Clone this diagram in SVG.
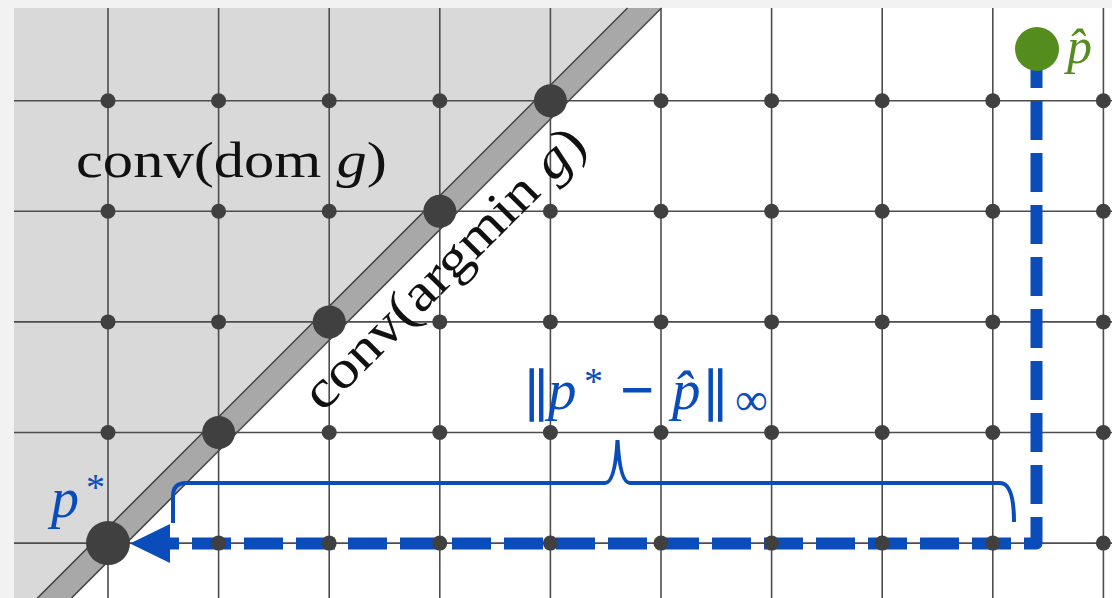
<svg xmlns="http://www.w3.org/2000/svg" width="1112" height="598" viewBox="0 0 1112 598">
<style>
.grid{stroke:#4d4d4d;stroke-width:1.6;fill:none}
.dot{fill:#404040}
.serif{font-family:"Liberation Serif","DejaVu Serif",serif}
.it{font-style:italic}
.blue{fill:#0a4cba}
.bar{stroke:#0a4cba;stroke-width:1.6}
</style>
<rect x="0" y="0" width="1112" height="598" fill="#f2f2f2"/>
<rect x="14" y="8" width="1098" height="590" fill="#ffffff"/>
<g id="region-dom">
<polygon points="14,8 627.5,8 37.5,598 14,598" fill="#d9d9d9"/>
</g>
<g id="region-argmin">
<polygon points="627.5,8 661.5,8 71.5,598 37.5,598" fill="#a8a8a8"/>
<line x1="627.5" y1="8" x2="37.5" y2="598" stroke="#404040" stroke-width="1.5"/>
<line x1="661.5" y1="8" x2="71.5" y2="598" stroke="#404040" stroke-width="1.5"/>
</g>
<g id="grid">
<line class="grid" x1="108" y1="8" x2="108" y2="598"/>
<line class="grid" x1="218.6" y1="8" x2="218.6" y2="598"/>
<line class="grid" x1="329.2" y1="8" x2="329.2" y2="598"/>
<line class="grid" x1="439.8" y1="8" x2="439.8" y2="598"/>
<line class="grid" x1="550.4" y1="8" x2="550.4" y2="598"/>
<line class="grid" x1="661" y1="8" x2="661" y2="598"/>
<line class="grid" x1="771.6" y1="8" x2="771.6" y2="598"/>
<line class="grid" x1="882.2" y1="8" x2="882.2" y2="598"/>
<line class="grid" x1="992.8" y1="8" x2="992.8" y2="598"/>
<line class="grid" x1="1103.4" y1="8" x2="1103.4" y2="598"/>
<line class="grid" x1="14" y1="100.7" x2="1112" y2="100.7"/>
<line class="grid" x1="14" y1="211.3" x2="1112" y2="211.3"/>
<line class="grid" x1="14" y1="321.9" x2="1112" y2="321.9"/>
<line class="grid" x1="14" y1="432.5" x2="1112" y2="432.5"/>
<line class="grid" x1="14" y1="543.1" x2="1112" y2="543.1"/>
</g>
<g id="connectors">
<path d="M1036.5,49 L1036.5,543.5 L170,543.5" fill="none" stroke="#0a4cba" stroke-width="12" stroke-dasharray="39 13" stroke-linejoin="round"/>
<polygon points="130,543.5 170,524 170,563" fill="#0a4cba"/>
<path d="M173,523 L173,496 Q173,483 186,483 L605,483 Q615,483 617.5,440 Q620,483 630,483 L1000,483 Q1014,483 1014,522" fill="none" stroke="#0a4cba" stroke-width="4"/>
</g>
<g id="grid-points">
<circle class="dot" cx="108" cy="100.7" r="7.5"/><circle class="dot" cx="218.6" cy="100.7" r="7.5"/><circle class="dot" cx="329.2" cy="100.7" r="7.5"/><circle class="dot" cx="439.8" cy="100.7" r="7.5"/><circle class="dot" cx="661" cy="100.7" r="7.5"/><circle class="dot" cx="771.6" cy="100.7" r="7.5"/><circle class="dot" cx="882.2" cy="100.7" r="7.5"/><circle class="dot" cx="992.8" cy="100.7" r="7.5"/><circle class="dot" cx="1103.4" cy="100.7" r="7.5"/>
<circle class="dot" cx="108" cy="211.3" r="7.5"/><circle class="dot" cx="218.6" cy="211.3" r="7.5"/><circle class="dot" cx="329.2" cy="211.3" r="7.5"/><circle class="dot" cx="550.4" cy="211.3" r="7.5"/><circle class="dot" cx="661" cy="211.3" r="7.5"/><circle class="dot" cx="771.6" cy="211.3" r="7.5"/><circle class="dot" cx="882.2" cy="211.3" r="7.5"/><circle class="dot" cx="992.8" cy="211.3" r="7.5"/><circle class="dot" cx="1103.4" cy="211.3" r="7.5"/>
<circle class="dot" cx="108" cy="321.9" r="7.5"/><circle class="dot" cx="218.6" cy="321.9" r="7.5"/><circle class="dot" cx="439.8" cy="321.9" r="7.5"/><circle class="dot" cx="550.4" cy="321.9" r="7.5"/><circle class="dot" cx="661" cy="321.9" r="7.5"/><circle class="dot" cx="771.6" cy="321.9" r="7.5"/><circle class="dot" cx="882.2" cy="321.9" r="7.5"/><circle class="dot" cx="992.8" cy="321.9" r="7.5"/><circle class="dot" cx="1103.4" cy="321.9" r="7.5"/>
<circle class="dot" cx="108" cy="432.5" r="7.5"/><circle class="dot" cx="329.2" cy="432.5" r="7.5"/><circle class="dot" cx="439.8" cy="432.5" r="7.5"/><circle class="dot" cx="550.4" cy="432.5" r="7.5"/><circle class="dot" cx="661" cy="432.5" r="7.5"/><circle class="dot" cx="771.6" cy="432.5" r="7.5"/><circle class="dot" cx="882.2" cy="432.5" r="7.5"/><circle class="dot" cx="992.8" cy="432.5" r="7.5"/><circle class="dot" cx="1103.4" cy="432.5" r="7.5"/>
<circle class="dot" cx="218.6" cy="543.1" r="7.5"/><circle class="dot" cx="329.2" cy="543.1" r="7.5"/><circle class="dot" cx="439.8" cy="543.1" r="7.5"/><circle class="dot" cx="550.4" cy="543.1" r="7.5"/><circle class="dot" cx="661" cy="543.1" r="7.5"/><circle class="dot" cx="771.6" cy="543.1" r="7.5"/><circle class="dot" cx="882.2" cy="543.1" r="7.5"/><circle class="dot" cx="992.8" cy="543.1" r="7.5"/><circle class="dot" cx="1103.4" cy="543.1" r="7.5"/>
</g>
<g id="argmin-points">
<circle class="dot" cx="218.6" cy="432.5" r="16.5"/>
<circle class="dot" cx="329.2" cy="321.9" r="16.5"/>
<circle class="dot" cx="439.8" cy="211.3" r="16.5"/>
<circle class="dot" cx="550.4" cy="100.7" r="16.5"/>
</g>
<g id="p-star">
<circle class="dot" cx="108" cy="543.1" r="22"/>
<text class="serif blue" x="51" y="517" font-size="56"><tspan class="it">p</tspan><tspan x="86" y="500" font-size="38">*</tspan></text>
</g>
<g id="p-hat">
<circle cx="1037" cy="49" r="22" fill="#548c1e"/>
<text class="serif it" x="1067" y="63" font-size="50" fill="#548c1e">p̂</text>
</g>
<g id="label-dom">
<text class="serif" x="76" y="177" font-size="51" fill="#111" textLength="311" lengthAdjust="spacingAndGlyphs">conv(dom <tspan class="it">g</tspan>)</text>
</g>
<g id="label-argmin">
<text class="serif" transform="translate(456,280) rotate(-45)" text-anchor="middle" font-size="53" fill="#111" textLength="376" lengthAdjust="spacingAndGlyphs">conv(argmin <tspan class="it">g</tspan>)</text>
</g>
<g id="label-dist">
<text class="serif blue" font-size="57" y="409"><tspan class="bar" x="526" letter-spacing="-2">||</tspan><tspan class="it" x="548">p</tspan><tspan x="584" y="394" font-size="38">*</tspan><tspan x="621" y="409" class="bar" stroke-width="0.8">−</tspan><tspan class="it" x="672">p̂</tspan><tspan class="bar" x="705" y="409" letter-spacing="-2">||</tspan><tspan x="735" y="415" font-size="46">∞</tspan></text>
</g>
</svg>
